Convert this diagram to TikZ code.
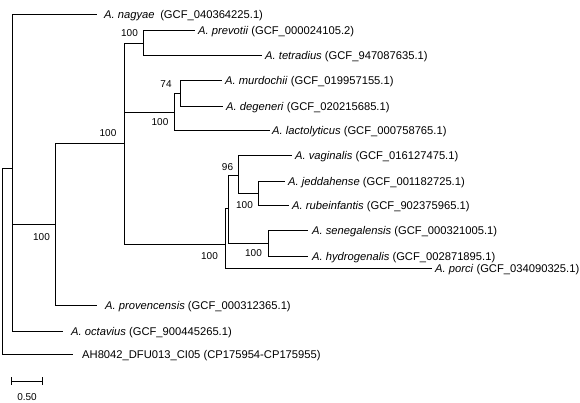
\documentclass[tikz,border=0pt]{standalone}
\usepackage{fontspec}
\setmainfont{Liberation Sans}
\begin{document}
\begin{tikzpicture}[x=1pt,y=-1pt,
  br/.style={line width=1pt,black},
  leaf/.style={anchor=base west,inner sep=0pt,font=\fontsize{11.2}{13}\selectfont},
  bs/.style={inner sep=0pt,font=\fontsize{10}{12}\selectfont},
  sc/.style={inner sep=0pt,font=\fontsize{10}{12}\selectfont}]
\useasboundingbox (0,0) rectangle (580,402);
% internal nodes (x, junction y)
\coordinate (R)   at (2.5,261);
\coordinate (N1)  at (12.7,168);
\coordinate (N2)  at (55,224);
\coordinate (N3)  at (124,143);
\coordinate (N4)  at (143,43);
\coordinate (N6)  at (174.5,112);
\coordinate (N7)  at (180,93);
\coordinate (N5)  at (225,244);
\coordinate (N8)  at (228,208);
\coordinate (N9)  at (238,175);
\coordinate (N11) at (258,193);
\coordinate (N10) at (268,243);
% leaf tips
\coordinate (tnag) at (97,14);
\coordinate (tpre) at (195,30);
\coordinate (ttet) at (262,55);
\coordinate (tmur) at (222,80);
\coordinate (tdeg) at (223,106);
\coordinate (tlac) at (270,130);
\coordinate (tvag) at (292,155);
\coordinate (tjed) at (285,181);
\coordinate (trub) at (289,205);
\coordinate (tsen) at (308,230);
\coordinate (thyd) at (308,256);
\coordinate (tpor) at (432,268);
\coordinate (tpro) at (97,305);
\coordinate (toct) at (63,331);
\coordinate (tah)  at (73,354);
% branches
\draw[br] (R) |- (N1);
\draw[br] (R) |- (tah);
\draw[br] (N1) |- (tnag);
\draw[br] (N1) |- (N2);
\draw[br] (N1) |- (toct);
\draw[br] (N2) |- (N3);
\draw[br] (N2) |- (tpro);
\draw[br] (N3) |- (N4);
\draw[br] (N3) |- (N6);
\draw[br] (N3) |- (N5);
\draw[br] (N4) |- (tpre);
\draw[br] (N4) |- (ttet);
\draw[br] (N6) |- (N7);
\draw[br] (N6) |- (tlac);
\draw[br] (N7) |- (tmur);
\draw[br] (N7) |- (tdeg);
\draw[br] (N5) |- (N8);
\draw[br] (N5) |- (tpor);
\draw[br] (N8) |- (N9);
\draw[br] (N8) |- (N10);
\draw[br] (N9) |- (tvag);
\draw[br] (N9) |- (N11);
\draw[br] (N11) |- (tjed);
\draw[br] (N11) |- (trub);
\draw[br] (N10) |- (tsen);
\draw[br] (N10) |- (thyd);
% leaf labels
\node[leaf] (lnag) at (104,18) {\textit{A. nagyae}\hspace{2.5pt} (GCF\_040364225.1)};
\node[leaf] (lpre) at (198,34) {\textit{A. prevotii} (GCF\_000024105.2)};
\node[leaf] (ltet) at (265,59) {\textit{A. tetradius} (GCF\_947087635.1)};
\node[leaf] (lmur) at (225,84) {\textit{A. murdochii} (GCF\_019957155.1)};
\node[leaf] (ldeg) at (226,110) {\textit{A. degeneri} (GCF\_020215685.1)};
\node[leaf] (llac) at (272,134) {\textit{A. lactolyticus} (GCF\_000758765.1)};
\node[leaf] (lvag) at (295,159) {\textit{A. vaginalis} (GCF\_016127475.1)};
\node[leaf] (ljed) at (288,185) {\textit{A. jeddahense} (GCF\_001182725.1)};
\node[leaf] (lrub) at (292,209) {\textit{A. rubeinfantis} (GCF\_902375965.1)};
\node[leaf] (lsen) at (312,234) {\textit{A. senegalensis} (GCF\_000321005.1)};
\node[leaf] (lhyd) at (312,260) {\textit{A. hydrogenalis} (GCF\_002871895.1)};
\node[leaf] (lpor) at (435,272) {\textit{A. porci} (GCF\_034090325.1)};
\node[leaf] (lpro) at (105,309) {\textit{A. provencensis} (GCF\_000312365.1)};
\node[leaf] (loct) at (71,335) {\textit{A. octavius} (GCF\_900445265.1)};
\node[leaf] (lah)  at (82,358) {AH8042\_DFU013\_CI05 (CP175954-CP175955)};
% bootstrap values
\node[bs] (b4)  at (129.5,33) {100};
\node[bs] (b3)  at (108,133) {100};
\node[bs] (b7)  at (166,84) {74};
\node[bs] (b6)  at (160,122) {100};
\node[bs] (b2)  at (41.5,237) {100};
\node[bs] (b9)  at (227.5,167) {96};
\node[bs] (b11) at (244.5,205) {100};
\node[bs] (b10) at (253.5,253) {100};
\node[bs] (b5)  at (209.5,256) {100};
% scale bar
\coordinate (s1) at (11.7,381);
\coordinate (s2) at (42.7,381);
\draw[br] (s1) -- (s2);
\draw[br] ([yshift=4pt]s1) -- ([yshift=-4pt]s1);
\draw[br] ([yshift=4pt]s2) -- ([yshift=-4pt]s2);
\node[sc] (slab) at (27,397) {0.50};
\end{tikzpicture}
\end{document}
